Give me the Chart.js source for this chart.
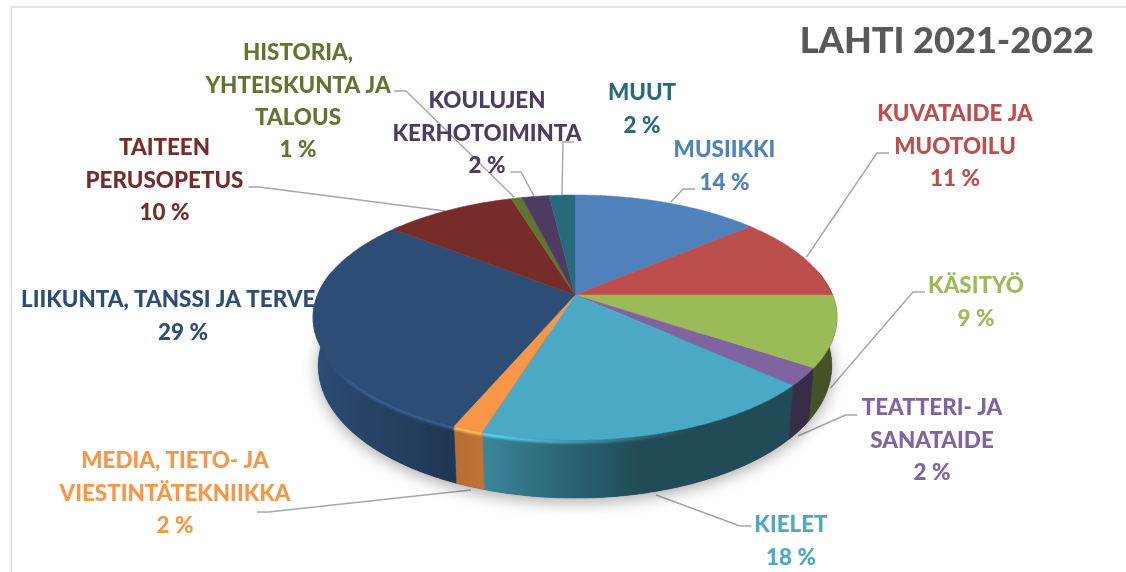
<!DOCTYPE html>
<html>
<head>
<meta charset="utf-8">
<style>html,body{margin:0;padding:0;background:#fff;overflow:hidden}canvas{display:block}</style>
<script src="https://cdn.jsdelivr.net/npm/chart.js@4"></script>
</head>
<body>
<canvas id="c" width="1126" height="572"></canvas>
<script>
const chartTitle = 'LAHTI 2021-2022';
const categories = ['MUSIIKKI','KUVATAIDE JA MUOTOILU','KÄSITYÖ','TEATTERI- JA SANATAIDE','KIELET','MEDIA, TIETO- JA VIESTINTÄTEKNIIKKA','LIIKUNTA, TANSSI JA TERVE','TAITEEN PERUSOPETUS','HISTORIA, YHTEISKUNTA JA TALOUS','KOULUJEN KERHOTOIMINTA','MUUT'];
const values = [13.8,11.2,9.4,2.3,18.1,1.6,29.2,9.7,0.8,2.0,1.9];
const colors = ['#4f81bd','#bc4e4b','#9bbb59','#8064a2','#4aaac5','#f79646','#2c4d75','#772c2a','#5f7530','#4d3b62','#276a7c'];

// label wrapping and placement (layout only)
const labelLines = [['MUSIIKKI'],['KUVATAIDE JA','MUOTOILU'],['KÄSITYÖ'],['TEATTERI- JA','SANATAIDE'],['KIELET'],['MEDIA, TIETO- JA','VIESTINTÄTEKNIIKKA'],['LIIKUNTA, TANSSI JA TERVE'],['TAITEEN','PERUSOPETUS'],['HISTORIA,','YHTEISKUNTA JA','TALOUS'],['KOULUJEN','KERHOTOIMINTA'],['MUUT']];
const labelX = [724.5,955,976,932,791,175,183,164.5,298,487,642];
const labelY = [150,114,286,408,525,461,300,148,53,101,93];
const lineStep = 32.3;
const leaders = [
  [[695,189],[683,189],[671,202]],
  [[889,153],[877,153],[806.5,257]],
  [[925,292],[913,292],[830.5,388]],
  [[857.5,415],[845.5,415],[798,436]],
  [[751.5,526],[740,526],[656,495]],
  [[257,512],[268.5,512],[471,490]],
  null,
  [[248.5,187],[259,187],[445,211]],
  [[394,91],[406,91],[514,197]],
  [[510.5,172],[521,172],[534,196]],
  [[574,142],[563,142],[562,195]]
];

// projection of the pie disc into the tilted 3D view
const view = {cx:575, cy:295, B:257.5, A:118.4, k:0.1837, depth:46, depthFront:12, taper:0.98};
const shadeStops = [[313,1],[365,.88],[450,.72],[485,.78],[560,.6],[640,.44],[840,.44]];

function rimTop(theta){
  const u=Math.sin(theta), v=-Math.cos(theta), w=1-view.k*v;
  return [view.cx+view.B*u/w, view.cy+view.A*v/w, v];
}
function rimBottom(theta){
  const p=rimTop(theta);
  return [view.cx+(p[0]-view.cx)*view.taper, p[1]+view.depth+view.depthFront*Math.max(0,p[2])];
}
function rgb(h){return [1,3,5].map(i=>parseInt(h.substr(i,2),16));}
function mix(c,f){return 'rgb('+c.map(x=>Math.min(255,Math.round(x*f))).join(',')+')';}
function sample(a,b,fn){
  const n=Math.max(2,Math.ceil((b-a)/0.01)),pts=[];
  for(let i=0;i<=n;i++)pts.push(fn(a+(b-a)*i/n));
  return pts;
}
function poly(ctx,pts,start){
  pts.forEach((p,i)=>{ if(i===0&&start)ctx.moveTo(p[0],p[1]); else ctx.lineTo(p[0],p[1]); });
}

const WALL_A=1.36, WALL_B=4.92; // visible front range of the rim, radians from 12 o'clock

const pie3d = {
  id:'pie3d',
  beforeDatasetDraw(chart){
    const ctx=chart.ctx;
    const arcs=chart.getDatasetMeta(0).data.map(a=>({
      a:a.startAngle+Math.PI/2, b:a.endAngle+Math.PI/2
    }));
    ctx.save();

    // frame
    ctx.strokeStyle='#dcdcdc'; ctx.lineWidth=1.5;
    ctx.beginPath(); ctx.moveTo(11.5,572); ctx.lineTo(11.5,7); ctx.lineTo(1126,7); ctx.stroke();

    // leader lines
    ctx.strokeStyle='#a6a6a6'; ctx.lineWidth=1.4; ctx.lineJoin='round';
    leaders.forEach(l=>{ if(!l)return; ctx.beginPath(); poly(ctx,l,true); ctx.stroke(); });

    // labels
    ctx.textBaseline='middle'; ctx.font='900 22.4px Lato';
    labelLines.forEach((lines,i)=>{
      ctx.fillStyle=colors[i]; 
      const x=labelX[i]; let y=labelY[i];
      lines.forEach(t=>{
        if(i===6){ ctx.textAlign='left'; ctx.fillText(t,21,y);} 
        else { ctx.textAlign='center'; ctx.fillText(t,x,y);} 
        y+=lineStep;
      });
      ctx.textAlign='center';
      ctx.fillText(Math.round(values[i])+' %',x,y);
    });

    // soft shadow below the body
    ctx.save();
    ctx.beginPath(); ctx.rect(0,335,1126,237); ctx.clip();
    ctx.shadowColor='rgba(0,0,0,.34)'; ctx.shadowBlur=16; ctx.shadowOffsetY=4;
    ctx.fillStyle='#333';
    ctx.beginPath();
    poly(ctx,sample(WALL_A,WALL_B,rimBottom),true);
    poly(ctx,sample(WALL_B,WALL_A+2*Math.PI,rimTop),false);
    ctx.closePath(); ctx.fill();
    ctx.restore();

    // rim walls
    arcs.forEach((s,i)=>{
      const a=Math.max(s.a,WALL_A), b=Math.min(s.b,WALL_B);
      if(b<=a)return;
      const base=rgb(colors[i]);
      const g=ctx.createLinearGradient(313,0,840,0);
      shadeStops.forEach(([x,f])=>g.addColorStop((x-313)/527,mix(base,f)));
      ctx.fillStyle=g; ctx.strokeStyle=g; ctx.lineWidth=.6;
      ctx.beginPath();
      poly(ctx,sample(a,b,rimTop),true);
      poly(ctx,sample(a,b,rimBottom).reverse(),false);
      ctx.closePath(); ctx.fill(); ctx.stroke();
    });

    // bevel highlight along the front rim
    arcs.forEach((s,i)=>{
      const a=Math.max(s.a,WALL_A), b=Math.min(s.b,WALL_B);
      if(b<=a)return;
      const base=rgb(colors[i]);
      const [r,gg,bb]=base;
      const clear='rgba('+r+','+gg+','+bb+',0)';
      const g=ctx.createLinearGradient(316,0,700,0);
      g.addColorStop(0,clear); g.addColorStop(.1,mix(base,1.25)); g.addColorStop(.45,mix(base,1.25));
      g.addColorStop(1,clear);
      ctx.save();
      ctx.filter='blur(1.2px)';
      ctx.strokeStyle=g; ctx.lineWidth=4;
      ctx.beginPath();
      poly(ctx,sample(a,b,t=>{const p=rimTop(t);return [p[0],p[1]+1.5];}),true);
      ctx.stroke();
      ctx.restore();
    });

    // top face
    arcs.forEach((s,i)=>{
      ctx.fillStyle=colors[i]; ctx.strokeStyle=colors[i]; ctx.lineWidth=.5;
      ctx.beginPath(); ctx.moveTo(view.cx,view.cy);
      poly(ctx,sample(s.a,s.b,rimTop),false);
      ctx.closePath(); ctx.fill(); ctx.stroke();
    });
    ctx.restore();
    return false;
  }
};

new Chart(document.getElementById('c'),{
  type:'pie',
  data:{labels:categories,datasets:[{data:values,backgroundColor:colors,borderWidth:0}]},
  plugins:[pie3d],
  options:{
    responsive:false,
    animation:false,
    layout:{padding:{top:20,right:32,left:0,bottom:0}},
    events:[],
    plugins:{
      legend:{display:false},
      tooltip:{enabled:false},
      title:{display:true,text:chartTitle,align:'end',color:'#595959',
        font:{family:'Lato',size:36.1,weight:'900',lineHeight:1.2},padding:0}
    }
  }
});
</script>
</body>
</html>
